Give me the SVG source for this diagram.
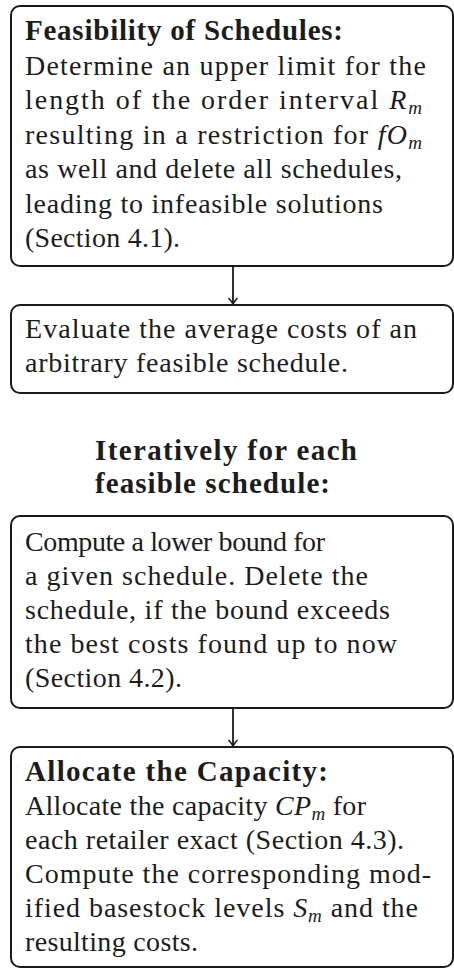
<svg xmlns="http://www.w3.org/2000/svg" width="454" height="969" viewBox="0 0 454 969">
<defs>
<style>
.box{fill:#fff;stroke:#1a1a1a;stroke-width:2}
.t{font-family:"Liberation Serif","Times New Roman",serif;font-size:28px;fill:#1c1c1c}
.b{font-weight:bold;font-size:29px}
.i{font-style:italic}
.s{font-style:italic;font-size:19px}
.conn{stroke:#1a1a1a;stroke-width:1.8;fill:none}
</style>
<marker id="tip" viewBox="-8 -6 10 12" refX="0" refY="0" markerWidth="10" markerHeight="12" markerUnits="userSpaceOnUse" orient="auto">
<path d="M -6 -4.5 C -3 -1.5 -1 -0.5 0 0 C -1 0.5 -3 1.5 -6 4.5" fill="none" stroke="#1a1a1a" stroke-width="1.6"/>
</marker>
</defs>
<rect width="454" height="969" fill="#fff"/>
<g id="node-feasibility">
<rect class="box" x="11" y="6" width="442" height="260" rx="9"/>
<text class="t b" x="25" y="40" textLength="318">Feasibility of Schedules:</text>
<text class="t" x="25" y="74.5" textLength="401">Determine an upper limit for the</text>
<text class="t" x="25" y="109" textLength="397">length of the order interval <tspan class="i">R</tspan><tspan class="s" dy="5">m</tspan></text>
<text class="t" x="25" y="143.5" textLength="397">resulting in a restriction for <tspan class="i">fO</tspan><tspan class="s" dy="5">m</tspan></text>
<text class="t" x="25" y="178" textLength="377">as well and delete all schedules,</text>
<text class="t" x="25" y="212.5" textLength="358">leading to infeasible solutions</text>
<text class="t" x="25" y="247" textLength="155">(Section 4.1).</text>
</g>
<g id="node-evaluate">
<rect class="box" x="11" y="305" width="442" height="88" rx="9"/>
<text class="t" x="25" y="338" textLength="392">Evaluate the average costs of an</text>
<text class="t" x="25" y="372" textLength="323">arbitrary feasible schedule.</text>
</g>
<g id="label-iterative">
<text class="t b" x="95" y="460" textLength="262">Iteratively for each</text>
<text class="t b" x="95" y="493" textLength="235">feasible schedule:</text>
</g>
<g id="node-lowerbound">
<rect class="box" x="11" y="516" width="442" height="192" rx="9"/>
<text class="t" x="25" y="551" textLength="300">Compute a lower bound for</text>
<text class="t" x="25" y="585" textLength="343">a given schedule.  Delete the</text>
<text class="t" x="25" y="619" textLength="365">schedule, if the bound exceeds</text>
<text class="t" x="25" y="653" textLength="372">the best costs found up to now</text>
<text class="t" x="25" y="687" textLength="157">(Section 4.2).</text>
</g>
<g id="node-allocate">
<rect class="box" x="11" y="747" width="442" height="220" rx="9"/>
<text class="t b" x="25" y="781" textLength="303">Allocate the Capacity:</text>
<text class="t" x="25" y="815" textLength="341">Allocate the capacity <tspan class="i">CP</tspan><tspan class="s" dy="5">m</tspan><tspan dy="-5"> for</tspan></text>
<text class="t" x="25" y="849" textLength="379">each retailer exact (Section 4.3).</text>
<text class="t" x="25" y="883" textLength="406">Compute the corresponding mod-</text>
<text class="t" x="25" y="917" textLength="393">ified basestock levels <tspan class="i">S</tspan><tspan class="s" dy="5">m</tspan><tspan dy="-5"> and the</tspan></text>
<text class="t" x="25" y="951" textLength="173">resulting costs.</text>
</g>
<g id="connectors">
<line class="conn" x1="233" y1="267" x2="233" y2="304" marker-end="url(#tip)"/>
<line class="conn" x1="233" y1="709" x2="233" y2="746" marker-end="url(#tip)"/>
</g>
</svg>
